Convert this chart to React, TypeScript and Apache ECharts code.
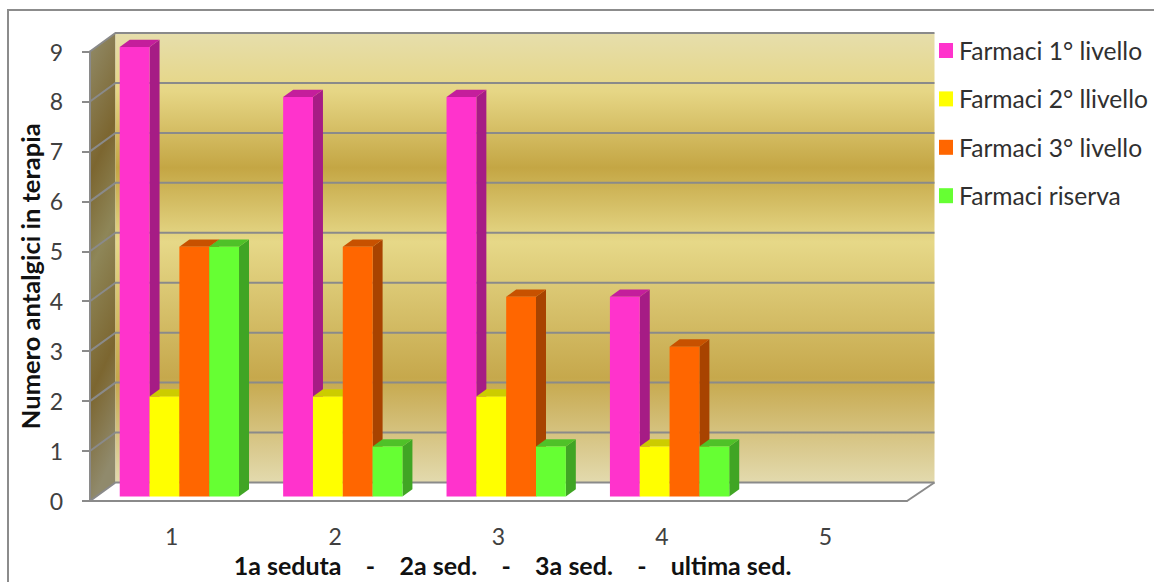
import React, { useEffect, useRef } from "react";
import * as echarts from "echarts";

const sessions = ["1", "2", "3", "4", "5"];
const yMax = 9;
const level1 = [9, 8, 8, 4, 0];
const level2 = [2, 2, 2, 1, 0];
const level3 = [5, 5, 4, 3, 0];
const reserve = [5, 1, 1, 1, 0];
const seriesNames = ["Farmaci 1° livello", "Farmaci 2° llivello", "Farmaci 3° livello", "Farmaci riserva"];
const seriesValues = [level1, level2, level3, reserve];
const frontColors = ["#FF33CC", "#FFFF00", "#FF6600", "#66FF33"];
const sideColors = ["#A61C85", "#B3B300", "#A84300", "#40A524"];
const topColors = ["#C41E9C", "#CCCC00", "#C75100", "#4FC128"];

const FONT = "Lato";
const GREY = "#8A8A8A";
const DX = 25.5;
const DY = 18.5;

const backStops = [
  { offset: 0, color: "#E6DEAC" },
  { offset: 0.13, color: "#E6D685" },
  { offset: 0.3, color: "#C4A644" },
  { offset: 0.465, color: "#E6D888" },
  { offset: 0.767, color: "#C6A84C" },
  { offset: 1, color: "#E3DAAE" },
];
const sideStops = [
  { offset: 0, color: "#928C6A" },
  { offset: 0.3, color: "#7C6630" },
  { offset: 0.5, color: "#8E8658" },
  { offset: 0.767, color: "#7C6630" },
  { offset: 1, color: "#908A6C" },
];

function renderWalls(params: any, api: any) {
  const c = params.coordSys;
  const left = c.x;
  const right = c.x + c.width;
  const top = c.y;
  const bottom = c.y + c.height;
  const children: any[] = [
    {
      type: "polygon",
      shape: { points: [[left, bottom], [left + DX, bottom - DY], [right + DX + 2, bottom - DY], [right, bottom]] },
      style: { fill: "#FFFFFF" },
    },
    {
      type: "polygon",
      shape: { points: [[left, top], [left + DX, top - DY], [left + DX, bottom - DY], [left, bottom]] },
      style: { fill: new echarts.graphic.LinearGradient(0, 0, 0.12, 1, sideStops) },
    },
    {
      type: "rect",
      shape: { x: left + DX, y: top - DY, width: c.width + 2, height: c.height },
      style: { fill: new echarts.graphic.LinearGradient(0, 0, 0, 1, backStops) },
    },
    {
      type: "line",
      shape: { x1: right + DX + 2, y1: bottom - DY, x2: right, y2: bottom },
      style: { stroke: GREY, lineWidth: 2, fill: "none" },
    },
  ];
  for (let v = 0; v <= yMax; v++) {
    const y = api.coord([0, v])[1];
    children.push({
      type: "polyline",
      shape: { points: [[left, y], [left + DX, y - DY], [right + DX + 2, y - DY]] },
      style: { stroke: GREY, lineWidth: 2, fill: "none" },
    });
  }
  return { type: "group", children };
}

function makeBarRenderer(i: number) {
  return (params: any, api: any) => {
    const idx = api.value(0);
    const val = api.value(1);
    if (!val) return null;
    const cat = api.size([1, 0])[0];
    const w = cat * 0.1825;
    const cx = api.coord([idx, 0])[0];
    const x0 = cx - cat * 0.318 + i * w;
    const x1 = x0 + w;
    const yb = api.coord([idx, 0])[1] - 4.5;
    const yt = api.coord([idx, val])[1] - 4.5;
    const dx = 10;
    const dy = 7.3;
    return {
      type: "group",
      children: [
        {
          type: "polygon",
          shape: { points: [[x1, yt], [x1 + dx, yt - dy], [x1 + dx, yb - dy], [x1, yb]] },
          style: { fill: sideColors[i] },
        },
        {
          type: "polygon",
          shape: { points: [[x0, yt], [x0 + dx, yt - dy], [x1 + dx, yt - dy], [x1, yt]] },
          style: { fill: topColors[i] },
        },
        {
          type: "rect",
          shape: { x: x0, y: yt, width: w, height: yb - yt },
          style: { fill: frontColors[i] },
        },
      ],
    };
  };
}

export default function App() {
  const ref = useRef<HTMLDivElement>(null);
  useEffect(() => {
    const chart = echarts.init(ref.current!, undefined, { renderer: "svg" });
    chart.setOption({
      animation: false,
      backgroundColor: "#FFFFFF",
      textStyle: { fontFamily: FONT },
      grid: { left: 90, right: 247, top: 51.5, bottom: 80.5 },
      legend: {
        orient: "vertical",
        left: 939,
        top: 38,
        icon: "rect",
        itemWidth: 14,
        itemHeight: 15,
        itemGap: 23.4,
        padding: 0,
        data: seriesNames,
        selectedMode: false,
        textStyle: { fontFamily: FONT, fontSize: 24.6, color: "#303030", padding: [0, 0, 0, 1] },
      },
      xAxis: {
        type: "category",
        data: sessions,
        z: 3,
        axisLine: { lineStyle: { color: GREY, width: 2 } },
        axisTick: { length: 8, lineStyle: { color: GREY, width: 2 } },
        axisLabel: { fontFamily: FONT, fontSize: 23, color: "#404040", margin: 23 },
        name: "1a seduta    -    2a sed.    -    3a sed.    -    ultima sed.",
        nameLocation: "middle",
        nameGap: 51,
        nameTextStyle: { fontFamily: FONT, fontSize: 25, fontWeight: "bold", color: "#111111", padding: [0, 0, 0, 28] },
      },
      yAxis: {
        type: "value",
        min: 0,
        max: yMax,
        interval: 1,
        z: 3,
        splitLine: { show: false },
        axisLine: { show: true, lineStyle: { color: GREY, width: 2 } },
        axisTick: { show: true, length: 8, lineStyle: { color: GREY, width: 2 } },
        axisLabel: { fontFamily: FONT, fontSize: 23, color: "#404040", margin: 27 },
        name: "Numero antalgici in terapia",
        nameLocation: "middle",
        nameGap: 47,
        nameMoveOverlap: false,
        nameTextStyle: { fontFamily: FONT, fontSize: 25.5, fontWeight: "bold", color: "#111111" },
      },
      graphic: [
        {
          type: "polyline",
          silent: true,
          shape: { points: [[8, 600], [8, 10], [1160, 10]] },
          style: { stroke: "#8C8C8C", lineWidth: 2, fill: "none" },
        },
      ],
      series: [
        {
          type: "custom",
          name: "walls",
          z: 1,
          silent: true,
          data: [[0, 0]],
          encode: { x: 0, y: 1 },
          renderItem: renderWalls,
        },
        ...seriesNames.map((name, i) => ({
          type: "custom",
          name,
          z: 2 + i,
          itemStyle: { color: frontColors[i] },
          data: seriesValues[i].map((v, k) => [k, v]),
          encode: { x: 0, y: 1 },
          renderItem: makeBarRenderer(i),
        })),
      ],
    });
    return () => chart.dispose();
  }, []);
  return <div ref={ref} style={{ position: "absolute", left: 0, top: 0, width: 1154, height: 582 }} />;
}
